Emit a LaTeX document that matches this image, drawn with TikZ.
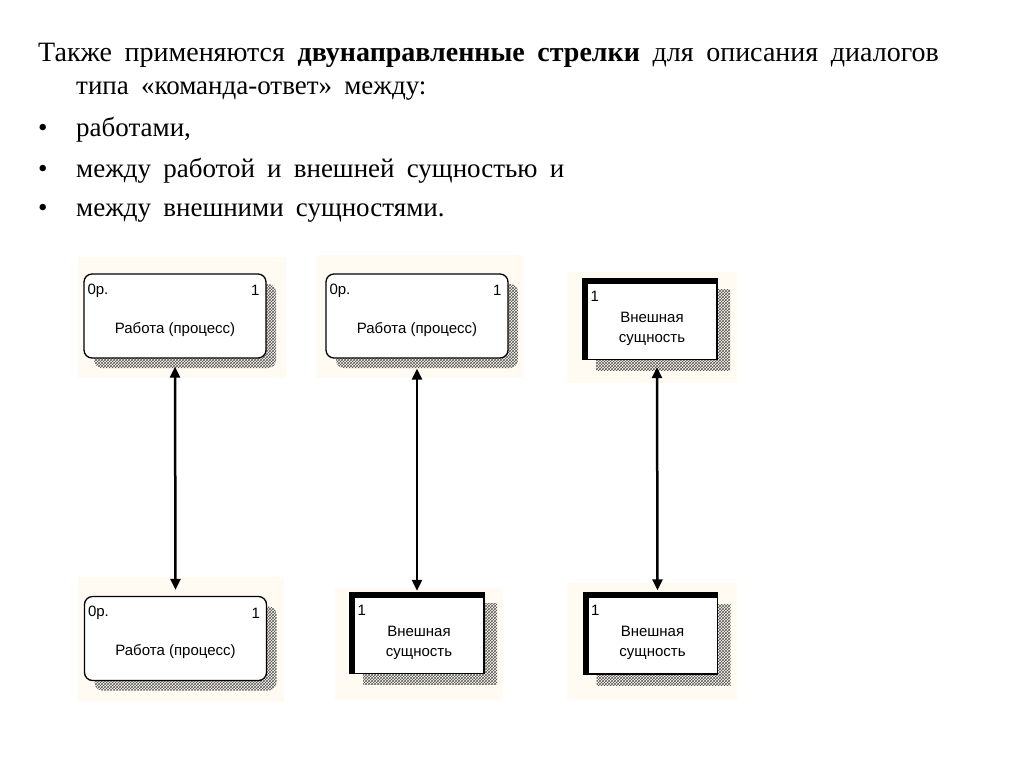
\documentclass[tikz,border=0pt]{standalone}
\usepackage{fontspec}
\setmainfont[WordSpace=1.8]{Liberation Serif}
\newfontfamily\boxfont{Liberation Sans}
\usetikzlibrary{arrows.meta,shadows,patterns}
\definecolor{cream}{RGB}{255,251,242}
\begin{document}
\begin{tikzpicture}[x=1pt, y=-1pt,
  txt/.style={anchor=base west, inner sep=0pt, font=\fontsize{27}{30}\selectfont},
  hatch/.style={pattern=crosshatch, pattern color=black!65},
  activity/.style={draw, fill=white, rounded corners=8pt, line width=1.3pt,
    minimum width=182pt, minimum height=84pt, inner sep=0pt,
    general shadow={shadow xshift=10pt, shadow yshift=-10pt, hatch}},
  entity/.style={draw, fill=white, line width=1.3pt,
    minimum width=134pt, minimum height=81pt, inner sep=0pt,
    general shadow={shadow xshift=13pt, shadow yshift=-11pt, hatch}},
  small/.style={inner sep=0pt, font=\boxfont\fontsize{15}{18}\selectfont},
  thickedge/.style={line width=6pt},
  dialog/.style={line width=2.5pt, {Triangle[length=11pt,width=10pt]}-{Triangle[length=11pt,width=10pt]}}]
\useasboundingbox (0,0) rectangle (1024,768);

% text
\node[txt, font=\fontsize{28}{30}\selectfont] (l1) at (38,61) {Также применяются \textbf{двунаправленные стрелки} для описания диалогов};
\node[txt] (l2) at (76,94) {типа «команда-ответ» между:};
\node[txt] (b3) at (38,136) {•};
\node[txt] (l3) at (76,136) {работами,};
\node[txt] (b4) at (38,177) {•};
\node[txt] (l4) at (76,177) {между работой и внешней сущностью и};
\node[txt] (b5) at (38,216) {•};
\node[txt] (l5) at (76,216) {между внешними сущностями.};

% cream backgrounds
\fill[cream] (78,257) rectangle (286,378);
\fill[cream] (317,255) rectangle (523,378);
\fill[cream] (78,577) rectangle (284,702);
\fill[cream] (567,272) rectangle (737,383);
\fill[cream] (335,588) rectangle (503,700);
\fill[cream] (567,583) rectangle (737,700);

% activities
\node[activity] (a1) at (175,316) {};
\node[activity] (a2) at (417,316) {};
\node[activity] (a3) at (175.5,638.5) {};
\foreach \a in {a1,a2,a3} {
  \node[small, anchor=west] at ([shift={(4,17)}]\a.north west) {0р.};
  \node[small, anchor=east] at ([shift={(-7,17)}]\a.north east) {1};
  \node[small] at ([shift={(0,56)}]\a.north) {Работа (процесс)};
}

% external entities
\node[entity] (e1) at (650,319) {};
\node[entity] (e2) at (417,633) {};
\node[entity] (e3) at (650.5,633.5) {};
\foreach \e in {e1,e2,e3} {
  \draw[thickedge] ([shift={(3,0)}]\e.south west) -- ([shift={(3,3)}]\e.north west) -- ([shift={(0,3)}]\e.north east);
  \node[small, anchor=west] at ([shift={(8,18)}]\e.north west) {1};
  \node[small] at ([shift={(2,-2)}]\e.center) {Внешная};
  \node[small] at ([shift={(2,21)}]\e.center) {сущность};
}

% dialogs
\draw[dialog, shorten <=8pt, shorten >=6pt] (a1.south) -- (a3.north);
\draw[dialog, shorten <=10pt, shorten >=1pt] (e2.north |- a2.south) -- (e2.north);
\draw[dialog, shorten <=7pt, shorten >=2pt] ([xshift=7pt]e1.south) -- ([xshift=7pt]e3.north);

\end{tikzpicture}
\end{document}
